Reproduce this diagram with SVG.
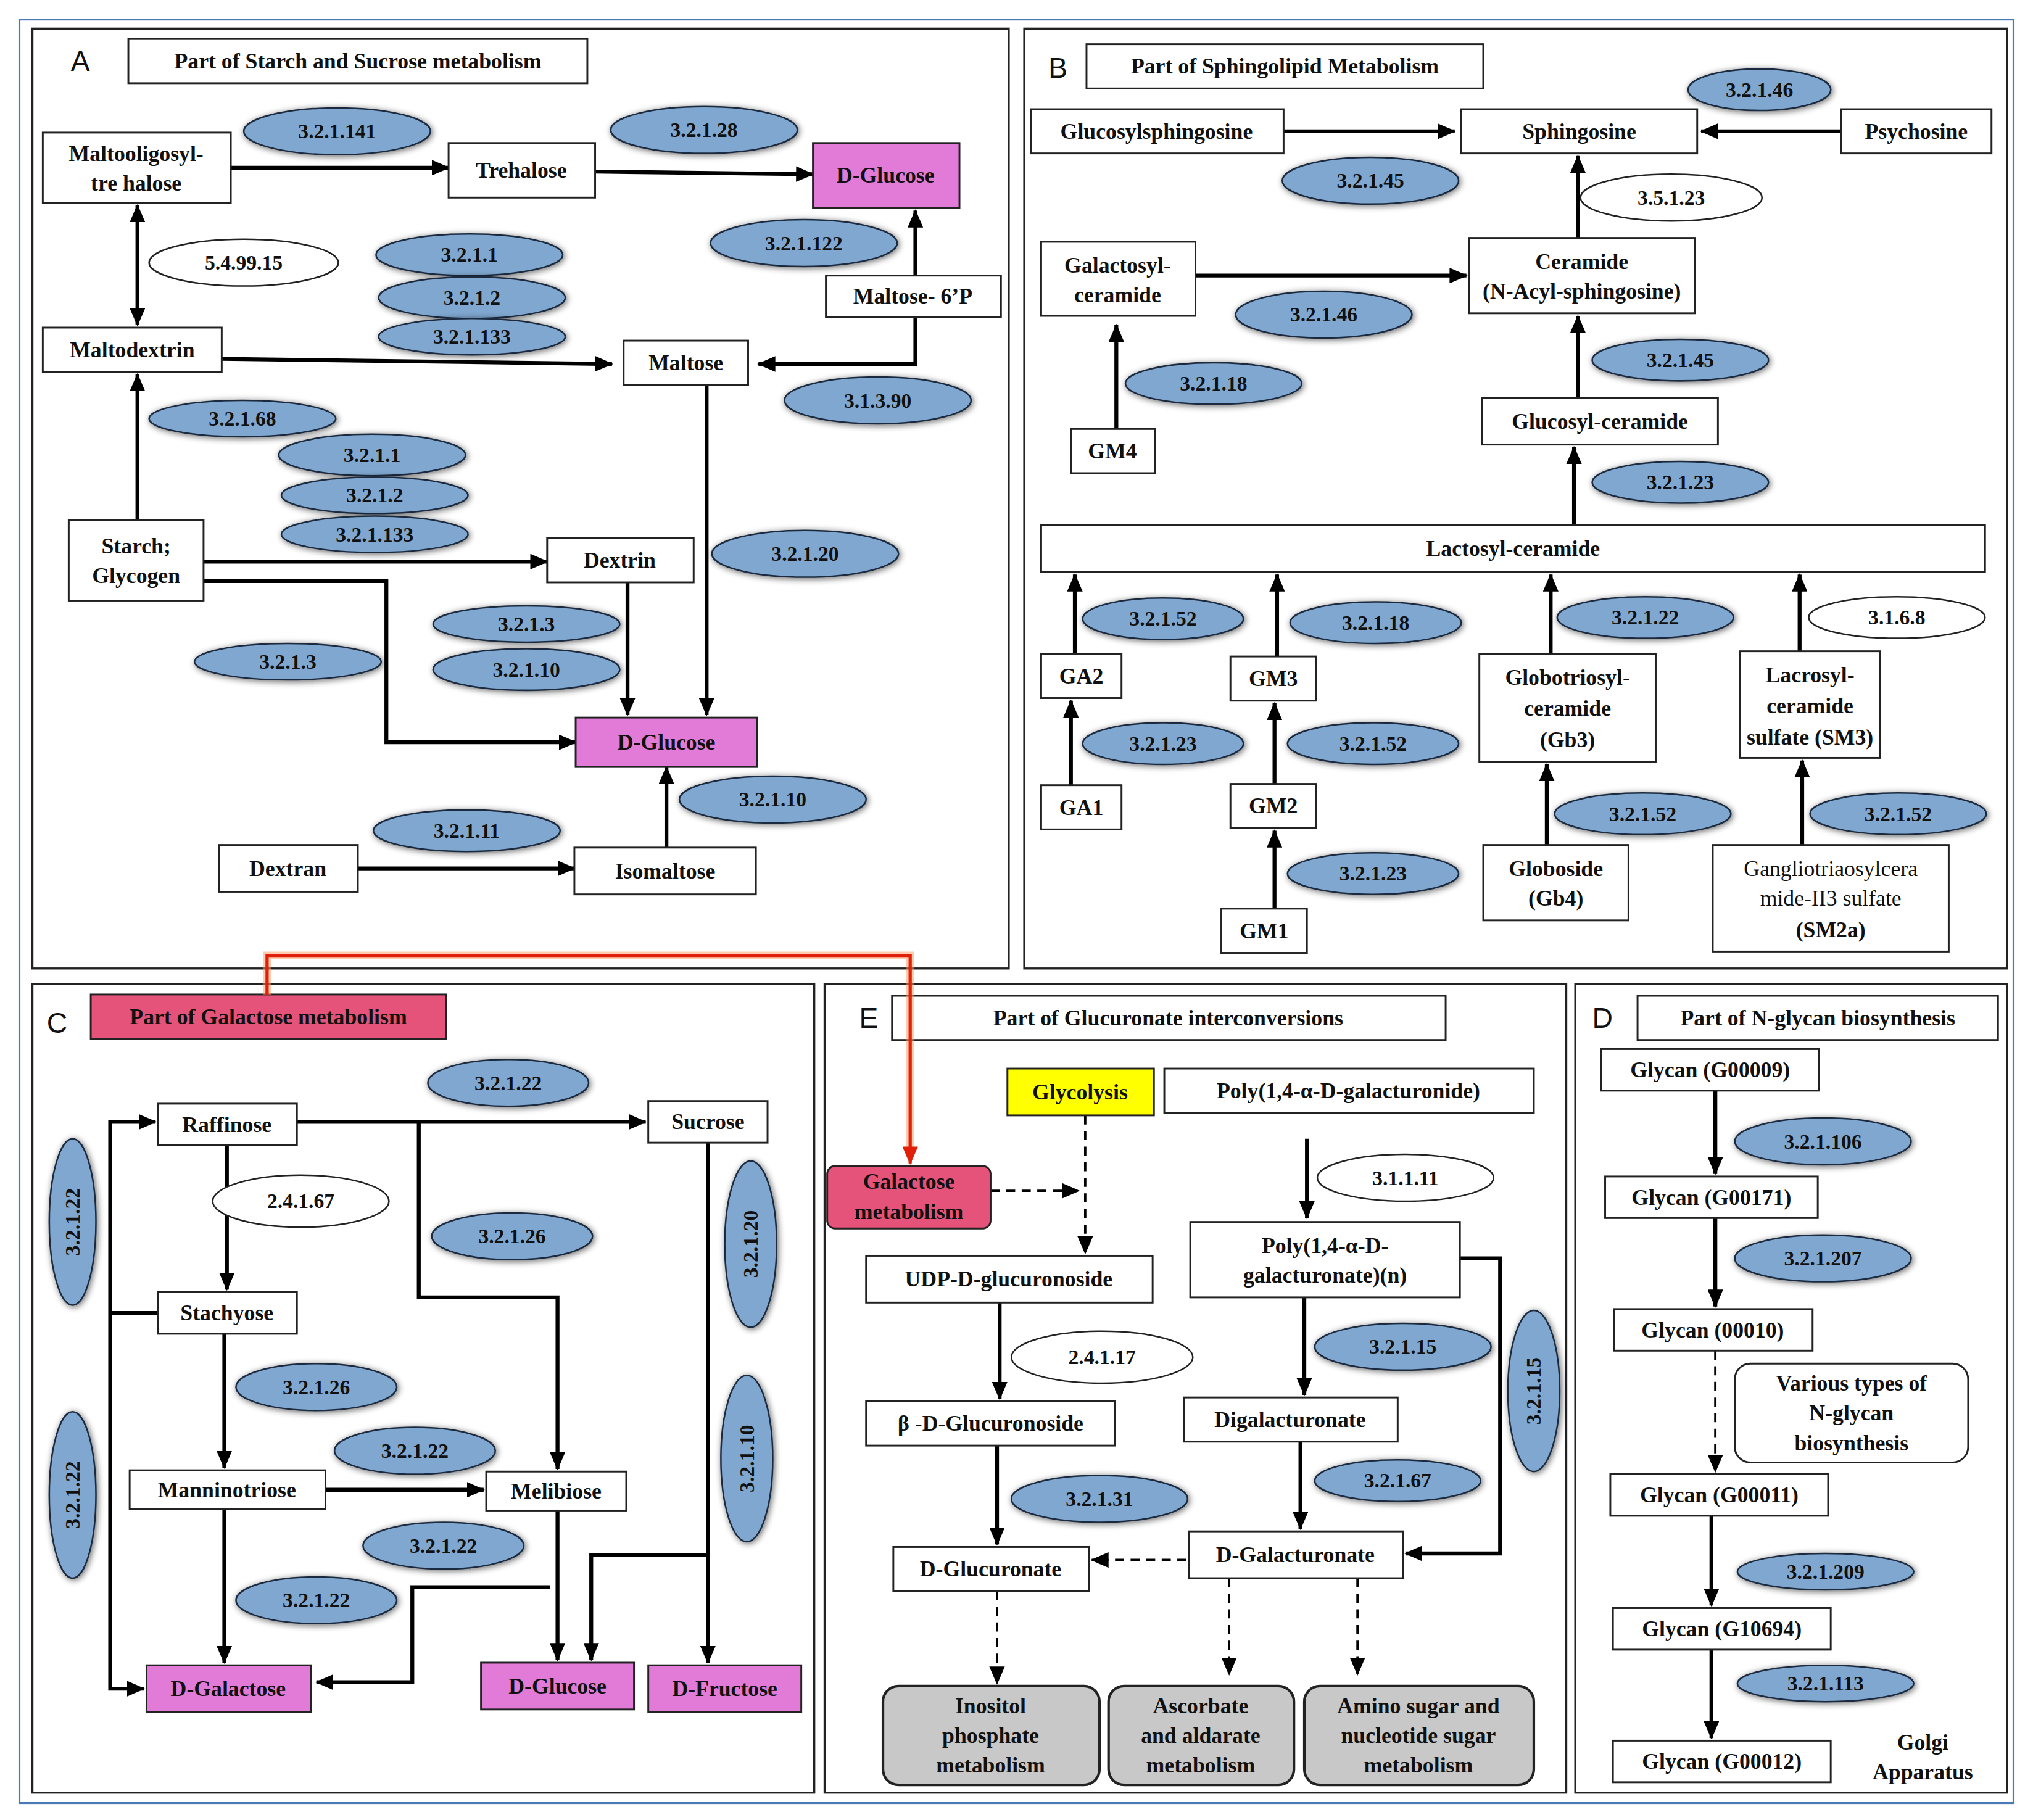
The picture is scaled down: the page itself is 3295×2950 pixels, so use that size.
<svg xmlns="http://www.w3.org/2000/svg" width="3295" height="2950" viewBox="0 0 3295 2950">
<style>
.pn{fill:none;stroke:#222;stroke-width:1.6}
.bx{fill:#fff;stroke:#222;stroke-width:1.4}
.pk{fill:#e27ad8;stroke:#222;stroke-width:1.4}
.rd{fill:#e5527a;stroke:#222;stroke-width:1.4}
.gy{fill:#c8c8c8;stroke:#222;stroke-width:2}
.en{fill:#7fa7d0;stroke:#1d2c40;stroke-width:1.2;filter:url(#sh)}
.ew{fill:#fff;stroke:#222;stroke-width:1.2}
text{font-family:"Liberation Serif",serif;font-weight:bold;font-size:17px;fill:#111;text-anchor:middle;dominant-baseline:central}
.et{font-size:16px}
.lt{font-family:"Liberation Sans",sans-serif;font-weight:normal;font-size:22px}
.reg{font-weight:normal}
.c{fill:none;stroke:#000;stroke-width:3;marker-end:url(#ar)}
.d{fill:none;stroke:#000;stroke-width:1.8;stroke-dasharray:7,5;marker-end:url(#ar)}
</style>
<defs>
<marker id="ar" markerUnits="userSpaceOnUse" markerWidth="14" markerHeight="12" refX="13" refY="6" orient="auto-start-reverse"><path d="M0,0L14,6L0,12z" fill="#000"/></marker>
<marker id="arr" markerUnits="userSpaceOnUse" markerWidth="14" markerHeight="12" refX="13" refY="6" orient="auto"><path d="M0,0L14,6L0,12z" fill="#e0200a"/></marker>
<filter id="sh" x="-20%" y="-30%" width="140%" height="160%"><feGaussianBlur in="SourceAlpha" stdDeviation="2.5"/><feOffset dx="1" dy="1"/><feComponentTransfer><feFuncA type="linear" slope="0.6"/></feComponentTransfer><feMerge><feMergeNode/><feMergeNode in="SourceGraphic"/></feMerge></filter>
</defs>
<rect width="3295" height="2950" fill="#fff"/>
<g transform="scale(2.1014,2.1071)">
<rect x="15" y="15" width="1538" height="1372" fill="none" stroke="#4a7ab5" stroke-width="1.5"/>
<g id="panels">
<rect class="pn" x="25" y="22" width="753" height="723"/>
<rect class="pn" x="790" y="22" width="758" height="723"/>
<rect class="pn" x="25" y="757" width="603" height="622"/>
<rect class="pn" x="636" y="757" width="572" height="622"/>
<rect class="pn" x="1215" y="757" width="333" height="622"/>
<text class="lt" x="62" y="47">A</text><text class="lt" x="816" y="52">B</text><text class="lt" x="44" y="787">C</text><text class="lt" x="670" y="783">E</text><text class="lt" x="1236" y="783">D</text>
<rect class="bx" x="99" y="30" width="354" height="34"/><text x="276" y="47">Part of Starch and Sucrose metabolism</text>
<rect class="bx" x="838" y="34" width="306" height="34"/><text x="991" y="51">Part of  Sphingolipid Metabolism</text>
<rect class="rd" x="70" y="765" width="274" height="34"/><text x="207" y="782">Part of Galactose metabolism</text>
<rect class="bx" x="688" y="766" width="427" height="34"/><text x="901" y="783">Part of  Glucuronate interconversions</text>
<rect class="bx" x="1263" y="766" width="278" height="34"/><text x="1402" y="783">Part of  N-glycan biosynthesis</text>
</g>
<g id="connectors">
<path class="c" d="M178,129H346"/><path class="c" d="M459,132L627,134"/>
<path class="c" style="marker-start:url(#ar)" d="M106,158V250"/>
<path class="c" d="M171,276L472,280"/>
<path class="c" d="M706,212V162"/><path class="c" d="M706,244V280H585"/>
<path class="c" d="M106,400V288"/><path class="c" d="M157,432H422"/>
<path class="c" d="M157,447H298V571H444"/>
<path class="c" d="M484,448V550"/><path class="c" d="M545,296V550"/>
<path class="c" d="M514,652V590"/><path class="c" d="M276,668H443"/>
<path class="c" d="M990,101H1122"/><path class="c" d="M1420,101H1312"/>
<path class="c" d="M1217,183V120"/><path class="c" d="M922,212H1131"/>
<path class="c" d="M861,330V250"/><path class="c" d="M1217,306V243"/><path class="c" d="M1214,404V344"/>
<path class="c" d="M829,503V442"/><path class="c" d="M985,505V442"/><path class="c" d="M1196,503V442"/><path class="c" d="M1388,501V442"/>
<path class="c" d="M826,604V539"/><path class="c" d="M983,603V541"/><path class="c" d="M983,699V639"/><path class="c" d="M1193,650V588"/><path class="c" d="M1390,650V585"/>
<path class="c" d="M229,863H498"/><path class="c" d="M175,881V992"/><path class="c" d="M173,1026V1129"/>
<path class="c" d="M251,1146H373"/><path class="c" d="M173,1161V1279"/>
<path fill="none" stroke="#000" stroke-width="3" d="M122,1010H85"/>
<path class="c" d="M85,1010V863H120"/><path class="c" d="M85,1010V1299H111"/>
<path class="c" d="M323,863V998H430V1130"/><path class="c" d="M430,1162V1277"/>
<path class="c" d="M546,879V1196H456V1277"/><path class="c" d="M546,1196V1279"/>
<path class="c" d="M424,1221H318V1294H244"/>
<path fill="none" stroke="#ff9a60" stroke-width="6" stroke-opacity="0.5" d="M206,765V735H702V890"/>
<path fill="none" stroke="#e0200a" stroke-width="2.5" marker-end="url(#arr)" d="M206,765V735H702V895"/>
<path class="d" d="M837,858V964"/><path class="d" d="M764,916H832"/>
<path class="c" d="M1008,876V937"/><path class="c" d="M771,1002V1076"/><path class="c" d="M769,1112V1188"/>
<path class="c" d="M1006,998V1073"/><path class="c" d="M1003,1109V1176"/>
<path class="c" d="M1126,968H1157V1195H1084"/>
<path class="d" d="M915,1200H842"/>
<path class="d" d="M769,1224V1295"/><path class="d" d="M948,1214V1288"/><path class="d" d="M1047,1214V1288"/>
<path class="c" d="M1323,839V903"/><path class="c" d="M1323,937V1005"/><path class="d" d="M1323,1039V1132"/>
<path class="c" d="M1320,1166V1235"/><path class="c" d="M1320,1269V1337"/>
</g>
<g id="nodesA">
<g id="n1"><rect class="bx" x="33" y="102" width="145" height="54"/><text x="105" y="118">Maltooligosyl-</text><text x="105" y="141">tre halose</text></g>
<g id="n2"><rect class="bx" x="346" y="110" width="113" height="42"/><text x="402" y="131">Trehalose</text></g>
<g id="n3"><rect class="pk" x="627" y="110" width="113" height="50"/><text x="683" y="135">D-Glucose</text></g>
<g id="n4"><rect class="bx" x="637" y="212" width="135" height="32"/><text x="704" y="228">Maltose- 6’P</text></g>
<g id="n5"><rect class="bx" x="33" y="252" width="138" height="34"/><text x="102" y="269">Maltodextrin</text></g>
<g id="n6"><rect class="bx" x="481" y="262" width="96" height="34"/><text x="529" y="279">Maltose</text></g>
<g id="n7"><rect class="bx" x="53" y="400" width="104" height="62"/><text x="105" y="420">Starch;</text><text x="105" y="443">Glycogen</text></g>
<g id="n8"><rect class="bx" x="422" y="414" width="113" height="34"/><text x="478" y="431">Dextrin</text></g>
<g id="n9"><rect class="pk" x="444" y="552" width="140" height="38"/><text x="514" y="571">D-Glucose</text></g>
<g id="n10"><rect class="bx" x="169" y="650" width="107" height="36"/><text x="222" y="668">Dextran</text></g>
<g id="n11"><rect class="bx" x="443" y="652" width="140" height="36"/><text x="513" y="670">Isomaltose</text></g>
</g>
<g id="enzA">
<ellipse class="en" cx="260" cy="101" rx="72" ry="18"/><text class="et" x="260" y="101">3.2.1.141</text>
<ellipse class="en" cx="543" cy="100" rx="72" ry="18"/><text class="et" x="543" y="100">3.2.1.28</text>
<ellipse class="ew" cx="188" cy="202" rx="73" ry="18"/><text class="et" x="188" y="202">5.4.99.15</text>
<ellipse class="en" cx="362" cy="196" rx="72" ry="16"/><text class="et" x="362" y="196">3.2.1.1</text>
<ellipse class="en" cx="364" cy="229" rx="72" ry="16"/><text class="et" x="364" y="229">3.2.1.2</text>
<ellipse class="en" cx="364" cy="259" rx="72" ry="14"/><text class="et" x="364" y="259">3.2.1.133</text>
<ellipse class="en" cx="620" cy="187" rx="72" ry="18"/><text class="et" x="620" y="187">3.2.1.122</text>
<ellipse class="en" cx="677" cy="308" rx="72" ry="18"/><text class="et" x="677" y="308">3.1.3.90</text>
<ellipse class="en" cx="187" cy="322" rx="72" ry="14"/><text class="et" x="187" y="322">3.2.1.68</text>
<ellipse class="en" cx="287" cy="350" rx="72" ry="16"/><text class="et" x="287" y="350">3.2.1.1</text>
<ellipse class="en" cx="289" cy="381" rx="72" ry="14"/><text class="et" x="289" y="381">3.2.1.2</text>
<ellipse class="en" cx="289" cy="411" rx="72" ry="14"/><text class="et" x="289" y="411">3.2.1.133</text>
<ellipse class="en" cx="621" cy="426" rx="72" ry="18"/><text class="et" x="621" y="426">3.2.1.20</text>
<ellipse class="en" cx="406" cy="480" rx="72" ry="14"/><text class="et" x="406" y="480">3.2.1.3</text>
<ellipse class="en" cx="406" cy="515" rx="72" ry="16"/><text class="et" x="406" y="515">3.2.1.10</text>
<ellipse class="en" cx="222" cy="509" rx="72" ry="14"/><text class="et" x="222" y="509">3.2.1.3</text>
<ellipse class="en" cx="596" cy="615" rx="72" ry="18"/><text class="et" x="596" y="615">3.2.1.10</text>
<ellipse class="en" cx="360" cy="639" rx="72" ry="16"/><text class="et" x="360" y="639">3.2.1.11</text>
</g>
<g id="nodesB">
<g id="b1"><rect class="bx" x="795" y="84" width="195" height="34"/><text x="892" y="101">Glucosylsphingosine</text></g>
<g id="b2"><rect class="bx" x="1127" y="84" width="182" height="34"/><text x="1218" y="101">Sphingosine</text></g>
<g id="b3"><rect class="bx" x="1420" y="84" width="116" height="34"/><text x="1478" y="101">Psychosine</text></g>
<g id="b4"><rect class="bx" x="1133" y="183" width="174" height="58"/><text x="1220" y="201">Ceramide</text><text x="1220" y="224">(N-Acyl-sphingosine)</text></g>
<g id="b5"><rect class="bx" x="803" y="186" width="119" height="57"/><text x="862" y="204">Galactosyl-</text><text x="862" y="227">ceramide</text></g>
<g id="b6"><rect class="bx" x="826" y="330" width="65" height="34"/><text x="858" y="347">GM4</text></g>
<g id="b7"><rect class="bx" x="1143" y="306" width="182" height="36"/><text x="1234" y="324">Glucosyl-ceramide</text></g>
<g id="b8"><rect class="bx" x="803" y="404" width="728" height="36"/><text x="1167" y="422">Lactosyl-ceramide</text></g>
<g id="b9"><rect class="bx" x="803" y="503" width="62" height="34"/><text x="834" y="520">GA2</text></g>
<g id="b10"><rect class="bx" x="949" y="505" width="66" height="34"/><text x="982" y="522">GM3</text></g>
<g id="b11"><rect class="bx" x="1141" y="503" width="136" height="83"/><text x="1209" y="521">Globotriosyl-</text><text x="1209" y="545">ceramide</text><text x="1209" y="569">(Gb3)</text></g>
<g id="b12"><rect class="bx" x="1342" y="501" width="108" height="82"/><text x="1396" y="519">Lacrosyl-</text><text x="1396" y="543">ceramide</text><text x="1396" y="567">sulfate (SM3)</text></g>
<g id="b13"><rect class="bx" x="803" y="604" width="62" height="34"/><text x="834" y="621">GA1</text></g>
<g id="b14"><rect class="bx" x="949" y="603" width="66" height="34"/><text x="982" y="620">GM2</text></g>
<g id="b15"><rect class="bx" x="942" y="699" width="66" height="34"/><text x="975" y="716">GM1</text></g>
<g id="b16"><rect class="bx" x="1144" y="650" width="112" height="58"/><text x="1200" y="668">Globoside</text><text x="1200" y="691">(Gb4)</text></g>
<g id="b17"><rect class="bx" x="1321" y="650" width="182" height="82"/><text class="reg" x="1412" y="668">Gangliotriaosylcera</text><text class="reg" x="1412" y="691">mide-II3 sulfate</text><text x="1412" y="715">(SM2a)</text></g>
</g>
<g id="enzB">
<ellipse class="en" cx="1357" cy="69" rx="55" ry="16"/><text class="et" x="1357" y="69">3.2.1.46</text>
<ellipse class="en" cx="1057" cy="139" rx="68" ry="18"/><text class="et" x="1057" y="139">3.2.1.45</text>
<ellipse class="ew" cx="1289" cy="152" rx="70" ry="18"/><text class="et" x="1289" y="152">3.5.1.23</text>
<ellipse class="en" cx="1021" cy="242" rx="68" ry="18"/><text class="et" x="1021" y="242">3.2.1.46</text>
<ellipse class="en" cx="1296" cy="277" rx="68" ry="16"/><text class="et" x="1296" y="277">3.2.1.45</text>
<ellipse class="en" cx="936" cy="295" rx="68" ry="16"/><text class="et" x="936" y="295">3.2.1.18</text>
<ellipse class="en" cx="1296" cy="371" rx="68" ry="16"/><text class="et" x="1296" y="371">3.2.1.23</text>
<ellipse class="en" cx="897" cy="476" rx="62" ry="16"/><text class="et" x="897" y="476">3.2.1.52</text>
<ellipse class="en" cx="1061" cy="479" rx="66" ry="16"/><text class="et" x="1061" y="479">3.2.1.18</text>
<ellipse class="en" cx="1269" cy="475" rx="68" ry="16"/><text class="et" x="1269" y="475">3.2.1.22</text>
<ellipse class="ew" cx="1463" cy="475" rx="68" ry="16"/><text class="et" x="1463" y="475">3.1.6.8</text>
<ellipse class="en" cx="897" cy="572" rx="62" ry="16"/><text class="et" x="897" y="572">3.2.1.23</text>
<ellipse class="en" cx="1059" cy="572" rx="66" ry="16"/><text class="et" x="1059" y="572">3.2.1.52</text>
<ellipse class="en" cx="1267" cy="626" rx="68" ry="16"/><text class="et" x="1267" y="626">3.2.1.52</text>
<ellipse class="en" cx="1464" cy="626" rx="68" ry="16"/><text class="et" x="1464" y="626">3.2.1.52</text>
<ellipse class="en" cx="1059" cy="672" rx="66" ry="16"/><text class="et" x="1059" y="672">3.2.1.23</text>
</g>
<g id="nodesC">
<g id="c1"><rect class="bx" x="122" y="849" width="107" height="32"/><text x="175" y="865">Raffinose</text></g>
<g id="c2"><rect class="bx" x="500" y="847" width="92" height="32"/><text x="546" y="863">Sucrose</text></g>
<g id="c3"><rect class="bx" x="122" y="994" width="107" height="32"/><text x="175" y="1010">Stachyose</text></g>
<g id="c4"><rect class="bx" x="100" y="1131" width="151" height="30"/><text x="175" y="1146">Manninotriose</text></g>
<g id="c5"><rect class="bx" x="375" y="1132" width="108" height="30"/><text x="429" y="1147">Melibiose</text></g>
<g id="c6"><rect class="pk" x="113" y="1281" width="127" height="36"/><text x="176" y="1299">D-Galactose</text></g>
<g id="c7"><rect class="pk" x="371" y="1279" width="118" height="36"/><text x="430" y="1297">D-Glucose</text></g>
<g id="c8"><rect class="pk" x="500" y="1281" width="118" height="36"/><text x="559" y="1299">D-Fructose</text></g>
</g>
<g id="enzC">
<ellipse class="en" cx="392" cy="833" rx="62" ry="18"/><text class="et" x="392" y="833">3.2.1.22</text>
<ellipse class="ew" cx="232" cy="924" rx="68" ry="20"/><text class="et" x="232" y="924">2.4.1.67</text>
<ellipse class="en" cx="395" cy="951" rx="62" ry="18"/><text class="et" x="395" y="951">3.2.1.26</text>
<ellipse class="en" cx="56" cy="940" rx="18" ry="64"/><text class="et" transform="translate(56,940) rotate(-90)">3.2.1.22</text>
<ellipse class="en" cx="579" cy="957" rx="20" ry="64"/><text class="et" transform="translate(579,957) rotate(-90)">3.2.1.20</text>
<ellipse class="en" cx="244" cy="1067" rx="62" ry="18"/><text class="et" x="244" y="1067">3.2.1.26</text>
<ellipse class="en" cx="320" cy="1116" rx="62" ry="18"/><text class="et" x="320" y="1116">3.2.1.22</text>
<ellipse class="en" cx="576" cy="1122" rx="20" ry="64"/><text class="et" transform="translate(576,1122) rotate(-90)">3.2.1.10</text>
<ellipse class="en" cx="56" cy="1150" rx="18" ry="64"/><text class="et" transform="translate(56,1150) rotate(-90)">3.2.1.22</text>
<ellipse class="en" cx="342" cy="1189" rx="62" ry="18"/><text class="et" x="342" y="1189">3.2.1.22</text>
<ellipse class="en" cx="244" cy="1231" rx="62" ry="18"/><text class="et" x="244" y="1231">3.2.1.22</text>
</g>
<g id="nodesE">
<g id="e1"><rect x="777" y="822" width="113" height="36" fill="#ffff00" stroke="#222" stroke-width="1.4"/><text x="833" y="840">Glycolysis</text></g>
<g id="e2"><rect class="bx" x="898" y="822" width="285" height="34"/><text x="1040" y="839">Poly(1,4-α-D-galacturonide)</text></g>
<g id="e3"><rect class="rd" x="638" y="897" width="126" height="48" rx="6"/><text x="701" y="909">Galactose</text><text x="701" y="932">metabolism</text></g>
<g id="e4"><rect class="bx" x="668" y="966" width="221" height="36"/><text x="778" y="984">UDP-D-glucuronoside</text></g>
<g id="e5"><rect class="bx" x="918" y="940" width="208" height="58"/><text x="1022" y="958">Poly(1,4-α-D-</text><text x="1022" y="981">galacturonate)(n)</text></g>
<g id="e6"><rect class="bx" x="668" y="1078" width="192" height="34"/><text x="764" y="1095">β -D-Glucuronoside</text></g>
<g id="e7"><rect class="bx" x="913" y="1075" width="165" height="34"/><text x="995" y="1092">Digalacturonate</text></g>
<g id="e8"><rect class="bx" x="689" y="1190" width="151" height="34"/><text x="764" y="1207">D-Glucuronate</text></g>
<g id="e9"><rect class="bx" x="917" y="1178" width="165" height="36"/><text x="999" y="1196">D-Galacturonate</text></g>
<g id="e10"><rect class="gy" x="681" y="1297" width="167" height="76" rx="12"/><text x="764" y="1312">Inositol</text><text x="764" y="1335">phosphate</text><text x="764" y="1358">metabolism</text></g>
<g id="e11"><rect class="gy" x="855" y="1297" width="143" height="76" rx="12"/><text x="926" y="1312">Ascorbate</text><text x="926" y="1335">and aldarate</text><text x="926" y="1358">metabolism</text></g>
<g id="e12"><rect class="gy" x="1006" y="1297" width="177" height="76" rx="12"/><text x="1094" y="1312">Amino sugar and</text><text x="1094" y="1335">nucleotide sugar</text><text x="1094" y="1358">metabolism</text></g>
</g>
<g id="enzE">
<ellipse class="ew" cx="1084" cy="906" rx="68" ry="18"/><text class="et" x="1084" y="906">3.1.1.11</text>
<ellipse class="en" cx="1082" cy="1036" rx="68" ry="18"/><text class="et" x="1082" y="1036">3.2.1.15</text>
<ellipse class="en" cx="1183" cy="1070" rx="20" ry="62"/><text class="et" transform="translate(1183,1070) rotate(-90)">3.2.1.15</text>
<ellipse class="ew" cx="850" cy="1044" rx="70" ry="20"/><text class="et" x="850" y="1044">2.4.1.17</text>
<ellipse class="en" cx="848" cy="1153" rx="68" ry="18"/><text class="et" x="848" y="1153">3.2.1.31</text>
<ellipse class="en" cx="1078" cy="1139" rx="64" ry="16"/><text class="et" x="1078" y="1139">3.2.1.67</text>
</g>
<g id="nodesD">
<g id="d1"><rect class="bx" x="1235" y="807" width="168" height="32"/><text x="1319" y="823">Glycan (G00009)</text></g>
<g id="d2"><rect class="bx" x="1238" y="905" width="164" height="32"/><text x="1320" y="921">Glycan (G00171)</text></g>
<g id="d3"><rect class="bx" x="1245" y="1007" width="153" height="32"/><text x="1321" y="1023">Glycan (00010)</text></g>
<g id="d4"><rect class="bx" x="1338" y="1049" width="180" height="76" rx="12"/><text x="1428" y="1064">Various types of</text><text x="1428" y="1087">N-glycan</text><text x="1428" y="1110">biosynthesis</text></g>
<g id="d5"><rect class="bx" x="1242" y="1134" width="168" height="32"/><text x="1326" y="1150">Glycan (G00011)</text></g>
<g id="d6"><rect class="bx" x="1244" y="1237" width="168" height="32"/><text x="1328" y="1253">Glycan (G10694)</text></g>
<g id="d7"><rect class="bx" x="1244" y="1339" width="168" height="32"/><text x="1328" y="1355">Glycan (G00012)</text></g>
<text x="1483" y="1340">Golgi</text><text x="1483" y="1363">Apparatus</text>
</g>
<g id="enzD">
<ellipse class="en" cx="1406" cy="878" rx="68" ry="18"/><text class="et" x="1406" y="878">3.2.1.106</text>
<ellipse class="en" cx="1406" cy="968" rx="68" ry="18"/><text class="et" x="1406" y="968">3.2.1.207</text>
<ellipse class="en" cx="1408" cy="1209" rx="68" ry="14"/><text class="et" x="1408" y="1209">3.2.1.209</text>
<ellipse class="en" cx="1408" cy="1295" rx="68" ry="14"/><text class="et" x="1408" y="1295">3.2.1.113</text>
</g>
</g>
</svg>
